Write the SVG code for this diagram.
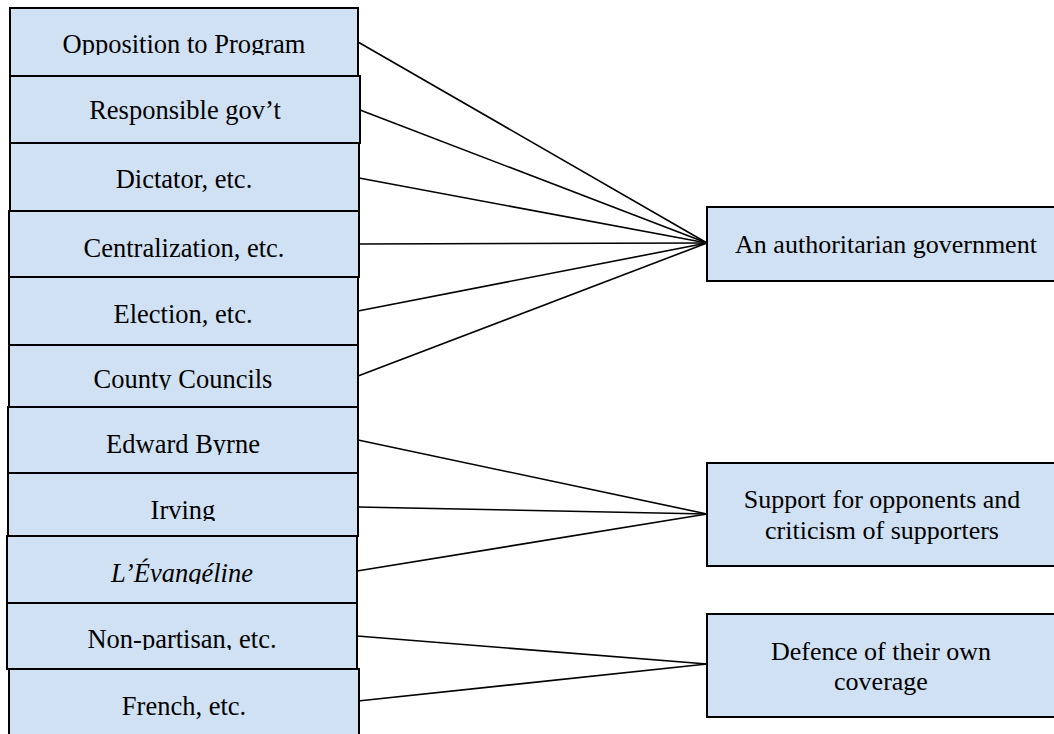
<svg xmlns="http://www.w3.org/2000/svg" width="1054" height="734" viewBox="0 0 1054 734">
<style>
.box{fill:#cfe1f3;stroke:#000;stroke-width:2}
.lt{font-family:"Liberation Serif","Times New Roman",serif;font-size:26.5px;fill:#000;text-anchor:middle}
.rt{font-family:"Liberation Serif","Times New Roman",serif;font-size:26px;fill:#000;text-anchor:middle}
.con line{stroke:#000;stroke-width:1.6;fill:none}
</style>
<defs>
<clipPath id="c1"><rect x="0" y="0" width="400" height="55"/></clipPath>
<clipPath id="c6"><rect x="0" y="340" width="400" height="50"/></clipPath>
<clipPath id="c7"><rect x="0" y="400" width="400" height="55"/></clipPath>
<clipPath id="c8"><rect x="0" y="470" width="400" height="51"/></clipPath>
<clipPath id="c9"><rect x="0" y="530" width="400" height="54"/></clipPath>
<clipPath id="c10"><rect x="0" y="600" width="400" height="50"/></clipPath>
</defs>
<g id="connectors" class="con">
<line x1="358" y1="42" x2="707" y2="243"/>
<line x1="360" y1="110" x2="707" y2="243"/>
<line x1="359" y1="178" x2="707" y2="243"/>
<line x1="359" y1="244" x2="707" y2="243"/>
<line x1="358" y1="311" x2="707" y2="243"/>
<line x1="358" y1="376" x2="707" y2="243"/>
<line x1="358" y1="440" x2="707" y2="514"/>
<line x1="358" y1="507" x2="707" y2="514"/>
<line x1="357" y1="571" x2="707" y2="514"/>
<line x1="357" y1="636" x2="707" y2="664"/>
<line x1="358" y1="701" x2="707" y2="664"/>
</g>
<g id="n1"><rect class="box" x="10" y="8" width="348" height="68"/><text class="lt" x="184" y="53" clip-path="url(#c1)">Opposition to Program</text></g>
<g id="n2"><rect class="box" x="10" y="76" width="350" height="67"/><text class="lt" x="185" y="119">Responsible gov’t</text></g>
<g id="n3"><rect class="box" x="10" y="143" width="349" height="68"/><text class="lt" x="184" y="188">Dictator, etc.</text></g>
<g id="n4"><rect class="box" x="9" y="211" width="350" height="66"/><text class="lt" x="184" y="257">Centralization, etc.</text></g>
<g id="n5"><rect class="box" x="9" y="277" width="349" height="68"/><text class="lt" x="183" y="323">Election, etc.</text></g>
<g id="n6"><rect class="box" x="9" y="345" width="349" height="62"/><text class="lt" x="183" y="388" clip-path="url(#c6)">County Councils</text></g>
<g id="n7"><rect class="box" x="8" y="407" width="350" height="66"/><text class="lt" x="183" y="453" clip-path="url(#c7)">Edward Byrne</text></g>
<g id="n8"><rect class="box" x="8" y="473" width="350" height="63"/><text class="lt" x="183" y="519" clip-path="url(#c8)">Irving</text></g>
<g id="n9"><rect class="box" x="7" y="536" width="350" height="67"/><text class="lt" x="182" y="582" font-style="italic" clip-path="url(#c9)">L’Évangéline</text></g>
<g id="n10"><rect class="box" x="7" y="603" width="350" height="66"/><text class="lt" x="182" y="648" clip-path="url(#c10)">Non-partisan, etc.</text></g>
<g id="n11"><rect class="box" x="9" y="669" width="350" height="70"/><text class="lt" x="184" y="715">French, etc.</text></g>
<g id="r1"><rect class="box" x="707" y="207" width="360" height="74"/><text class="rt" x="886" y="253">An authoritarian government</text></g>
<g id="r2"><rect class="box" x="707" y="463" width="360" height="103"/><text class="rt" x="882" y="508">Support for opponents and</text><text class="rt" x="882" y="539">criticism of supporters</text></g>
<g id="r3"><rect class="box" x="707" y="614" width="360" height="103"/><text class="rt" x="881" y="660">Defence of their own</text><text class="rt" x="881" y="690">coverage</text></g>
</svg>
